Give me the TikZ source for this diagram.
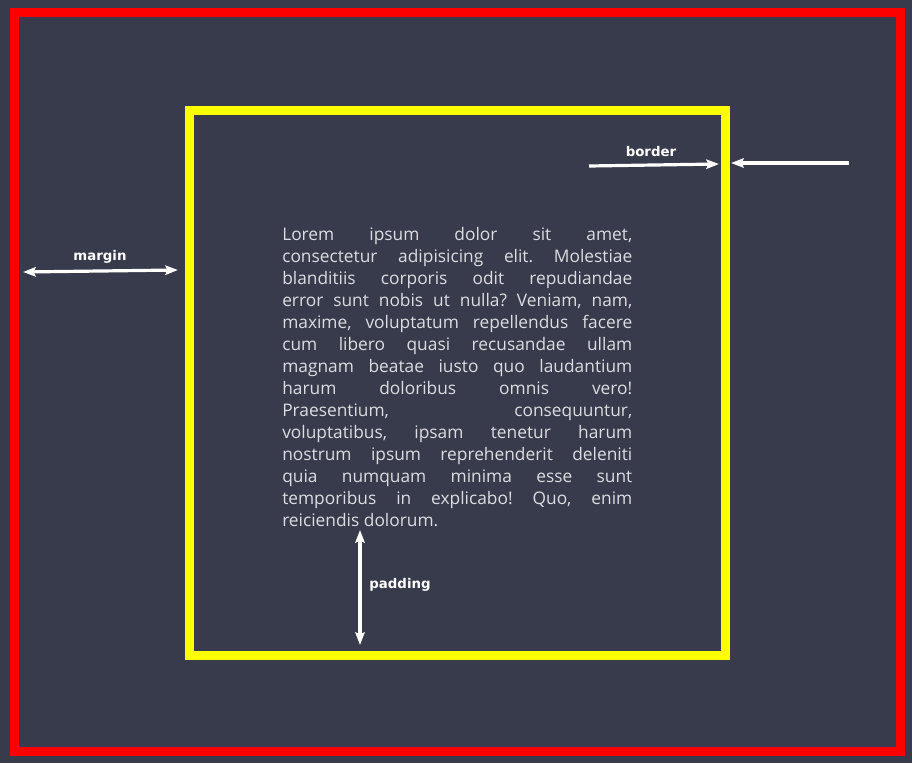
\documentclass[tikz,border=0pt]{standalone}
\usepackage{fontspec}
\setmainfont{Open Sans}
\newfontfamily\tagfont{DejaVu Sans}
\usepackage{xcolor}
\usepackage{tikz}
\usetikzlibrary{arrows.meta}
\definecolor{canvas}{RGB}{55,59,75}
\definecolor{marginred}{RGB}{255,0,0}
\definecolor{borderyellow}{RGB}{255,255,0}
\definecolor{copytext}{RGB}{220,221,226}
\newcommand{\fullline}[1]{\makebox[262.5pt][s]{#1}}

\begin{document}
\begin{tikzpicture}[x=0.75pt, y=-0.75pt,
  dimarrow/.style={white, line width=2.4pt,
    -{Stealth[length=9.5pt,width=7pt,inset=1.5pt]}},
  dimboth/.style={dimarrow,
    {Stealth[length=9.5pt,width=7pt,inset=1.5pt]}-{Stealth[length=9.5pt,width=7pt,inset=1.5pt]}},
  dimlabel/.style={text=white, inner sep=0pt, font=\tagfont\bfseries\fontsize{10}{12}\selectfont},
  copy/.style={text=copytext, inner sep=0pt, anchor=north west, text width=262.5pt,
    align=justify, font=\fontsize{13}{16.5}\selectfont\frenchspacing}]
  \fill[canvas] (0,0) rectangle (912,763);

  \draw[line width=6.75pt, color=marginred] (14.5,13) rectangle (900.5,751.5);
  \draw[line width=6.75pt, color=borderyellow] (189.5,110.5) rectangle (725.5,655.5);

  \node[copy] (lorem) at (282,227) {%
    \fullline{Lorem ipsum dolor sit amet,}\\
    \fullline{consectetur adipisicing elit. Molestiae}\\
    \fullline{blanditiis corporis odit repudiandae}\\
    \fullline{error sunt nobis ut nulla? Veniam, nam,}\\
    \fullline{maxime, voluptatum repellendus facere}\\
    \fullline{cum libero quasi recusandae ullam}\\
    \fullline{magnam beatae iusto quo laudantium}\\
    \fullline{harum doloribus omnis vero!}\\
    \fullline{Praesentium, consequuntur,}\\
    \fullline{voluptatibus, ipsam tenetur harum}\\
    \fullline{nostrum ipsum reprehenderit deleniti}\\
    \fullline{quia numquam minima esse sunt}\\
    \fullline{temporibus in explicabo! Quo, enim}\\
    reiciendis dolorum.};

  \coordinate (margin-l) at (23,272);
  \coordinate (margin-r) at (178,270);
  \node[dimlabel] (margin) at (100,257) {margin};
  \draw[dimboth] (margin-l) -- (margin-r);

  \coordinate (border-a) at (589,166);
  \coordinate (border-b) at (719,164);
  \coordinate (border-c) at (849,163);
  \coordinate (border-d) at (731,163);
  \node[dimlabel] (border) at (651,152) {border};
  \draw[dimarrow] (border-a) -- (border-b);
  \draw[dimarrow] (border-c) -- (border-d);

  \coordinate (padding-t) at (360,530);
  \coordinate (padding-b) at (360,645);
  \node[dimlabel] (padding) at (400,585) {padding};
  \draw[dimboth] (padding-t) -- (padding-b);
\end{tikzpicture}
\end{document}
